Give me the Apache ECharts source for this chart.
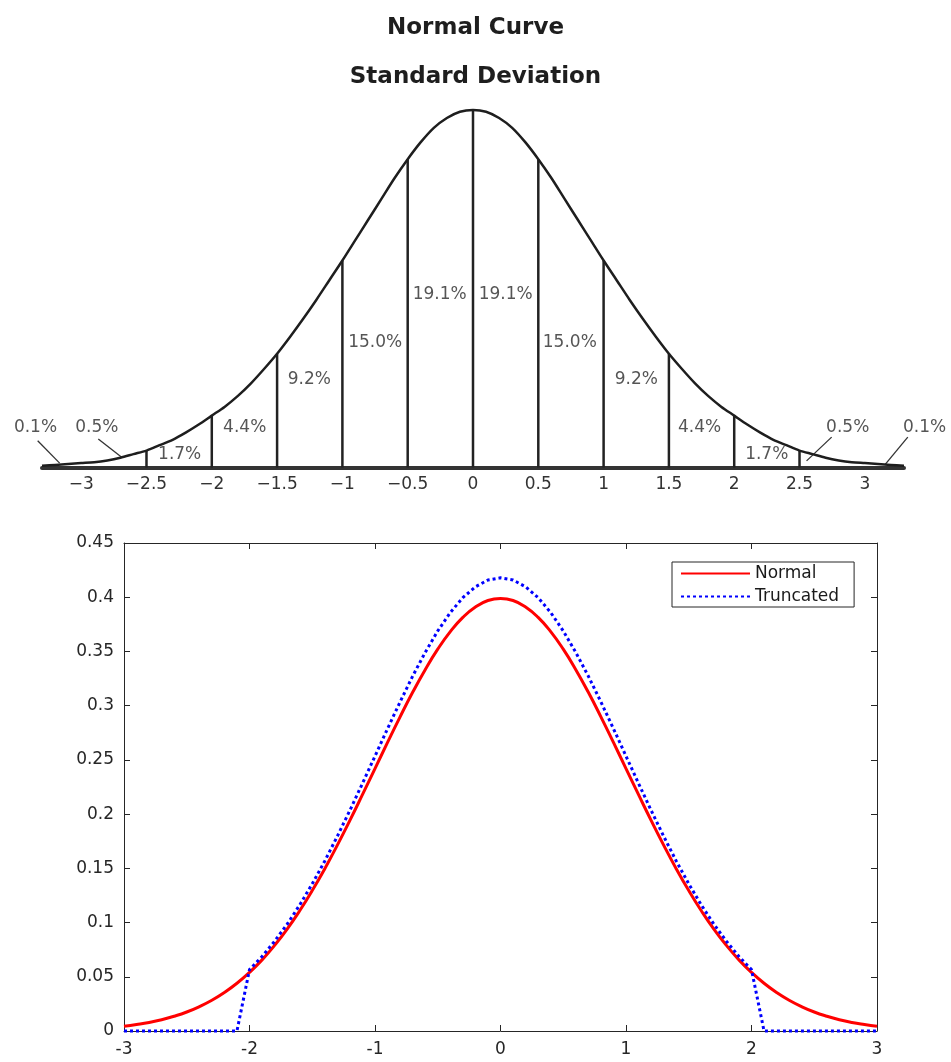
<!DOCTYPE html>
<html>
<head>
<meta charset="utf-8">
<script src="https://cdn.jsdelivr.net/npm/echarts@6/dist/echarts.min.js"></script>
<style>
  html, body { margin: 0; padding: 0; background: #fff; }
  #chart { width: 951px; height: 1062px; }
</style>
</head>
<body>
<div id="chart"></div>
<script>
// top figure: standard deviation diagram
const sdX = [-3.3, -3.2, -3.1, -3, -2.9, -2.8, -2.7, -2.6, -2.5, -2.4, -2.3, -2.2, -2.1, -2,
  -1.9, -1.8, -1.7, -1.6, -1.5, -1.4, -1.3, -1.2, -1.1, -1, -0.9, -0.8, -0.7, -0.6, -0.5,
  -0.4, -0.3, -0.2, -0.1, 0, 0.1, 0.2, 0.3, 0.4, 0.5, 0.6, 0.7, 0.8, 0.9, 1,
  1.1, 1.2, 1.3, 1.4, 1.5, 1.6, 1.7, 1.8, 1.9, 2, 2.1, 2.2, 2.3, 2.4, 2.5,
  2.6, 2.7, 2.8, 2.9, 3, 3.1, 3.2, 3.3]
const sdY = [0.002, 0.003, 0.004, 0.005, 0.006, 0.008, 0.011, 0.015, 0.019, 0.025, 0.031, 0.039, 0.048, 0.058,
  0.068, 0.080, 0.094, 0.110, 0.127, 0.146, 0.166, 0.187, 0.209, 0.231, 0.254, 0.277, 0.300, 0.323, 0.344,
  0.363, 0.379, 0.390, 0.397, 0.399, 0.397, 0.390, 0.379, 0.363, 0.344, 0.323, 0.300, 0.277, 0.254, 0.231,
  0.209, 0.187, 0.166, 0.146, 0.127, 0.110, 0.094, 0.080, 0.068, 0.058, 0.048, 0.039, 0.031, 0.025, 0.019,
  0.015, 0.011, 0.008, 0.006, 0.005, 0.004, 0.003, 0.002]
const dividerX = [-2.5, -2, -1.5, -1, -0.5, 0, 0.5, 1, 1.5, 2, 2.5]
const sdTicks = [-3, -2.5, -2, -1.5, -1, -0.5, 0, 0.5, 1, 1.5, 2, 2.5, 3]
const pctText = ['0.1%', '0.5%', '1.7%', '4.4%', '9.2%', '15.0%', '19.1%',
  '19.1%', '15.0%', '9.2%', '4.4%', '1.7%', '0.5%', '0.1%']

// bottom figure: normal vs truncated density
const xs = [-3, -2.9, -2.8, -2.7, -2.6, -2.5, -2.4, -2.3, -2.2, -2.1, -2, -1.9, -1.8, -1.7, -1.6, -1.5,
  -1.4, -1.3, -1.2, -1.1, -1, -0.9, -0.8, -0.7, -0.6, -0.5, -0.4, -0.3, -0.2, -0.1, 0,
  0.1, 0.2, 0.3, 0.4, 0.5, 0.6, 0.7, 0.8, 0.9, 1, 1.1, 1.2, 1.3, 1.4, 1.5,
  1.6, 1.7, 1.8, 1.9, 2, 2.1, 2.2, 2.3, 2.4, 2.5, 2.6, 2.7, 2.8, 2.9, 3]
const normalY = [0.0044, 0.0060, 0.0079, 0.0104, 0.0136, 0.0175, 0.0224, 0.0283, 0.0355, 0.0440,
  0.0540, 0.0656, 0.0790, 0.0940, 0.1109, 0.1295, 0.1497, 0.1714, 0.1942, 0.2179,
  0.2420, 0.2661, 0.2897, 0.3123, 0.3332, 0.3521, 0.3683, 0.3814, 0.3910, 0.3970, 0.3989,
  0.3970, 0.3910, 0.3814, 0.3683, 0.3521, 0.3332, 0.3123, 0.2897, 0.2661, 0.2420,
  0.2179, 0.1942, 0.1714, 0.1497, 0.1295, 0.1109, 0.0940, 0.0790, 0.0656, 0.0540,
  0.0440, 0.0355, 0.0283, 0.0224, 0.0175, 0.0136, 0.0104, 0.0079, 0.0060, 0.0044]
const truncY = [0, 0, 0, 0, 0, 0, 0, 0, 0, 0,
  0.0566, 0.0687, 0.0828, 0.0985, 0.1162, 0.1357, 0.1568, 0.1796, 0.2035, 0.2283,
  0.2535, 0.2788, 0.3035, 0.3272, 0.3491, 0.3689, 0.3859, 0.3996, 0.4096, 0.4159, 0.4179,
  0.4159, 0.4096, 0.3996, 0.3859, 0.3689, 0.3491, 0.3272, 0.3035, 0.2788, 0.2535,
  0.2283, 0.2035, 0.1796, 0.1568, 0.1357, 0.1162, 0.0985, 0.0828, 0.0687, 0.0566,
  0, 0, 0, 0, 0, 0, 0, 0, 0, 0]

// where the percentage labels and leader lines sit (data units of the top grid)
const pctPos = [[-3.35, 0.045], [-2.88, 0.045], [-2.246, 0.014], [-1.748, 0.045], [-1.253, 0.098],
  [-0.749, 0.140], [-0.255, 0.193], [0.25, 0.193], [0.741, 0.140], [1.25, 0.098],
  [1.735, 0.045], [2.249, 0.014], [2.869, 0.045], [3.458, 0.045]]
const leaderLines = [
  [[-3.333, 0.030], [-3.165, 0.005]],
  [[-2.869, 0.032], [-2.685, 0.011]],
  [[2.746, 0.034], [2.554, 0.0075]],
  [[3.329, 0.034], [3.153, 0.003]]
]

const chart = echarts.init(document.getElementById('chart'))

const font = 'DejaVu Sans'
const ink = '#262626'

const minus = v => (v < 0 ? '\u2212' + (-v) : String(v))

const option = {
  backgroundColor: '#fff',
  animation: false,
  title: [
    {
      text: 'Normal Curve',
      left: 'center',
      top: 12,
      textStyle: { fontFamily: font, fontSize: 23, fontWeight: 'bold', color: '#1e1e1e' }
    },
    {
      text: 'Standard Deviation',
      left: 'center',
      top: 61,
      textStyle: { fontFamily: font, fontSize: 23, fontWeight: 'bold', color: '#1e1e1e' }
    }
  ],
  legend: {
    data: ['Normal', 'Truncated'],
    orient: 'vertical',
    left: 672,
    top: 562,
    itemWidth: 69,
    itemHeight: 14,
    itemGap: 6,
    padding: [3, 15, 2, 8],
    borderColor: ink,
    borderWidth: 1,
    backgroundColor: '#fff',
    itemStyle: { opacity: 0 },
    textStyle: { fontFamily: font, fontSize: 17, color: '#1a1a1a' }
  },
  grid: [
    { left: 42, width: 862, top: 109, height: 358.6 },
    { left: 124, width: 753, top: 543, height: 488 }
  ],
  xAxis: [
    {
      gridIndex: 0,
      type: 'value',
      min: -3.3,
      max: 3.3,
      axisLine: { lineStyle: { color: '#333', width: 4 } },
      axisTick: { show: false },
      splitLine: { show: false },
      axisLabel: {
        customValues: sdTicks,
        formatter: minus,
        margin: 8,
        fontFamily: font,
        fontSize: 17,
        color: '#333'
      }
    },
    {
      gridIndex: 1,
      type: 'value',
      min: -3,
      max: 3,
      interval: 1,
      axisLine: { onZero: false, lineStyle: { color: ink, width: 1 } },
      axisTick: { inside: true, length: 6, lineStyle: { color: ink } },
      splitLine: { show: false },
      axisLabel: { margin: 10, fontFamily: font, fontSize: 17, color: ink }
    },
    {
      gridIndex: 1,
      type: 'value',
      position: 'top',
      min: -3,
      max: 3,
      interval: 1,
      axisLine: { onZero: false, lineStyle: { color: ink, width: 1 } },
      axisTick: { inside: true, length: 6, lineStyle: { color: ink } },
      splitLine: { show: false },
      axisLabel: { show: false }
    }
  ],
  yAxis: [
    {
      gridIndex: 0,
      type: 'value',
      min: 0,
      max: 0.4,
      show: false
    },
    {
      gridIndex: 1,
      type: 'value',
      min: 0,
      max: 0.45,
      interval: 0.05,
      axisLine: { show: true, onZero: false, lineStyle: { color: ink, width: 1 } },
      axisTick: { show: true, inside: true, length: 6, lineStyle: { color: ink } },
      splitLine: { show: false },
      axisLabel: { margin: 10, fontFamily: font, fontSize: 17, color: ink }
    },
    {
      gridIndex: 1,
      type: 'value',
      position: 'right',
      min: 0,
      max: 0.45,
      interval: 0.05,
      axisLine: { show: true, onZero: false, lineStyle: { color: ink, width: 1 } },
      axisTick: { show: true, inside: true, length: 6, lineStyle: { color: ink } },
      splitLine: { show: false },
      axisLabel: { show: false }
    }
  ],
  series: [
    {
      name: 'sd-curve',
      type: 'line',
      xAxisIndex: 0,
      yAxisIndex: 0,
      data: sdX.map((x, i) => [x, sdY[i]]),
      smooth: 0.3,
      symbol: 'none',
      lineStyle: { color: '#1e1e1e', width: 2.5 },
      z: 3
    },
    {
      name: 'dividers',
      type: 'bar',
      xAxisIndex: 0,
      yAxisIndex: 0,
      barWidth: 2.5,
      data: dividerX.map(x => [x, sdY[sdX.indexOf(x)]]),
      itemStyle: { color: '#222' },
      z: 2
    },
    {
      name: 'pct',
      type: 'scatter',
      xAxisIndex: 0,
      yAxisIndex: 0,
      clip: false,
      symbolSize: 1,
      itemStyle: { color: 'transparent' },
      data: pctPos.map((p, i) => [p[0], p[1], pctText[i]]),
      label: {
        show: true,
        position: 'inside',
        formatter: p => p.data[2],
        fontFamily: font,
        fontSize: 17,
        color: '#2a2a2a'
      }
    },
    {
      name: 'leaders',
      type: 'lines',
      coordinateSystem: 'cartesian2d',
      xAxisIndex: 0,
      yAxisIndex: 0,
      clip: false,
      data: leaderLines.map(c => ({ coords: c })),
      lineStyle: { color: '#333', width: 1.3, opacity: 1 }
    },
    {
      name: 'Normal',
      type: 'line',
      xAxisIndex: 1,
      yAxisIndex: 1,
      data: xs.map((x, i) => [x, normalY[i]]),
      smooth: true,
      symbol: 'none',
      clip: false,
      lineStyle: { color: '#ff0000', width: 3 },
      itemStyle: { color: '#ff0000' }
    },
    {
      name: 'Truncated',
      type: 'line',
      xAxisIndex: 1,
      yAxisIndex: 1,
      data: xs.map((x, i) => [x, truncY[i]]),
      symbol: 'none',
      clip: false,
      lineStyle: { color: '#0000ff', width: 3, type: [3, 3] },
      itemStyle: { color: '#0000ff' },
      z: 3
    }
  ]
}

chart.setOption(option)
</script>
</body>
</html>
